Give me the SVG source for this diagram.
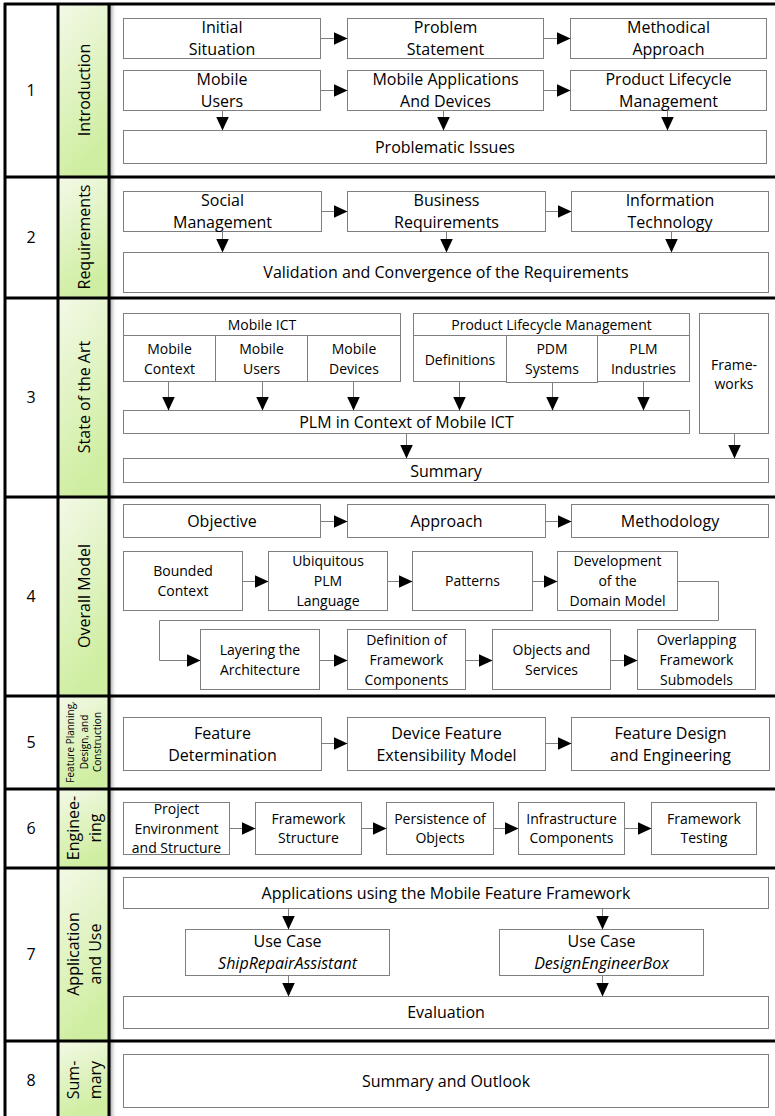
<svg xmlns="http://www.w3.org/2000/svg" width="775" height="1116" viewBox="0 0 775 1116">
  <style>
    .box { fill: #ffffff; stroke: #7f7f7f; stroke-width: 1; }
    .t { font-family: "Open Sans", "Liberation Sans", sans-serif; font-size: 16px; fill: #000; text-anchor: middle; }
    .s { font-size: 14px; }
    .xs { font-size: 10px; }
    .it { font-style: italic; }
    .c { fill: none; stroke: #7f7f7f; stroke-width: 1; marker-end: url(#ah); }
    .frame { stroke: #000; stroke-width: 3; fill: none; }
    .cell { fill: url(#green); }
  </style>
  <defs>
    <marker id="ah" markerUnits="userSpaceOnUse" markerWidth="14" markerHeight="14" refX="14" refY="7" orient="auto" viewBox="0 0 14 14">
      <path d="M0,0.5 L14,7 L0,13.5 z" fill="#000"/>
    </marker>
    <linearGradient id="green" x1="0" y1="0" x2="0.3" y2="1">
      <stop offset="0" stop-color="#f3f9e7"/>
      <stop offset="1" stop-color="#cfeea1"/>
    </linearGradient>
    <linearGradient id="shade" x1="0" y1="0" x2="1" y2="0">
      <stop offset="0" stop-color="#808080" stop-opacity="0.75"/>
      <stop offset="1" stop-color="#ffffff" stop-opacity="0"/>
    </linearGradient>
  </defs>

  <rect x="0" y="0" width="775" height="1116" fill="#ffffff"/>

  <!-- chapter title column -->
  <g id="title-cells">
    <rect class="cell" x="58" y="4" width="51" height="173"/>
    <rect class="cell" x="58" y="177" width="51" height="121"/>
    <rect class="cell" x="58" y="298" width="51" height="199"/>
    <rect class="cell" x="58" y="497" width="51" height="199"/>
    <rect class="cell" x="58" y="696" width="51" height="93"/>
    <rect class="cell" x="58" y="789" width="51" height="79"/>
    <rect class="cell" x="58" y="868" width="51" height="173"/>
    <rect class="cell" x="58" y="1041" width="51" height="75"/>
    <rect x="110" y="4" width="7" height="1112" fill="url(#shade)"/>
  </g>

  <!-- table grid -->
  <g id="grid" class="frame">
    <path d="M4,4 H775 M4,177 H775 M4,298 H775 M4,497 H775 M4,696 H775 M4,789 H775 M4,868 H775 M4,1041 H775"/>
    <path d="M5,3 V1116 M58,3 V1116 M109,3 V1116"/>
  </g>

  <!-- chapter numbers -->
  <g id="numbers" class="t">
    <text x="31" y="96">1</text>
    <text x="31" y="243">2</text>
    <text x="31" y="403">3</text>
    <text x="31" y="602">4</text>
    <text x="31" y="748">5</text>
    <text x="31" y="834">6</text>
    <text x="31" y="960">7</text>
    <text x="31" y="1086">8</text>
  </g>

  <!-- chapter titles (rotated) -->
  <g id="titles" class="t">
    <text transform="translate(84,90) rotate(-90)" y="5.7">Introduction</text>
    <text transform="translate(84,237) rotate(-90)" y="5.7">Requirements</text>
    <text transform="translate(84,397) rotate(-90)" y="5.7">State of the Art</text>
    <text transform="translate(84,596) rotate(-90)" y="5.7">Overall Model</text>
    <g transform="translate(84,742) rotate(-90)" class="xs">
      <text y="-10">Feature Planning,</text>
      <text y="3.5">Design, and</text>
      <text y="17">Construction</text>
    </g>
    <g transform="translate(84,828) rotate(-90)">
      <text y="-5">Enginee-</text>
      <text y="17">ring</text>
    </g>
    <g transform="translate(84,954) rotate(-90)">
      <text y="-5">Application</text>
      <text y="17">and Use</text>
    </g>
    <g transform="translate(84,1080) rotate(-90)">
      <text y="-5">Sum-</text>
      <text y="17">mary</text>
    </g>
  </g>

  <g transform="translate(0.5,0.5)">
    <!-- 1 Introduction -->
    <g id="n-initial-situation"><rect class="box" x="123" y="18" width="197" height="40"/><text class="t" x="221.5" y="32.5">Initial</text><text class="t" x="221.5" y="54.5">Situation</text></g>
    <g id="n-problem-statement"><rect class="box" x="347" y="18" width="196" height="40"/><text class="t" x="445" y="32.5">Problem</text><text class="t" x="445" y="54.5">Statement</text></g>
    <g id="n-methodical-approach"><rect class="box" x="570" y="18" width="196" height="40"/><text class="t" x="668" y="32.5">Methodical</text><text class="t" x="668" y="54.5">Approach</text></g>
    <g id="n-mobile-users"><rect class="box" x="123" y="70" width="197" height="40"/><text class="t" x="221.5" y="84.5">Mobile</text><text class="t" x="221.5" y="106.5">Users</text></g>
    <g id="n-mobile-apps"><rect class="box" x="347" y="70" width="196" height="40"/><text class="t" x="445" y="84.5">Mobile Applications</text><text class="t" x="445" y="106.5">And Devices</text></g>
    <g id="n-plm"><rect class="box" x="570" y="70" width="196" height="40"/><text class="t" x="668" y="84.5">Product Lifecycle</text><text class="t" x="668" y="106.5">Management</text></g>
    <g id="n-problematic-issues"><rect class="box" x="123" y="130" width="643" height="33"/><text class="t" x="444.5" y="152">Problematic Issues</text></g>

    <!-- 2 Requirements -->
    <g id="n-social"><rect class="box" x="123" y="191" width="198" height="40"/><text class="t" x="222" y="205.5">Social</text><text class="t" x="222" y="227.5">Management</text></g>
    <g id="n-business"><rect class="box" x="347" y="191" width="198" height="40"/><text class="t" x="446" y="205.5">Business</text><text class="t" x="446" y="227.5">Requirements</text></g>
    <g id="n-it"><rect class="box" x="571" y="191" width="197" height="40"/><text class="t" x="669.5" y="205.5">Information</text><text class="t" x="669.5" y="227.5">Technology</text></g>
    <g id="n-validation"><rect class="box" x="123" y="252" width="645" height="40"/><text class="t" x="445.5" y="277.5">Validation and Convergence of the Requirements</text></g>

    <!-- 3 State of the Art -->
    <g id="n-mobile-ict">
      <rect class="box" x="123" y="313" width="277" height="22"/><text class="t s" x="261.5" y="329">Mobile ICT</text>
      <rect class="box" x="123" y="335" width="92" height="46"/><text class="t s" x="169" y="353">Mobile</text><text class="t s" x="169" y="373">Context</text>
      <rect class="box" x="215" y="335" width="92" height="46"/><text class="t s" x="261" y="353">Mobile</text><text class="t s" x="261" y="373">Users</text>
      <rect class="box" x="307" y="335" width="93" height="46"/><text class="t s" x="353.5" y="353">Mobile</text><text class="t s" x="353.5" y="373">Devices</text>
    </g>
    <g id="n-plm-sota">
      <rect class="box" x="413" y="313" width="276" height="22"/><text class="t s" x="551" y="329">Product Lifecycle Management</text>
      <rect class="box" x="413" y="335" width="93" height="46"/><text class="t s" x="459.5" y="364">Definitions</text>
      <rect class="box" x="506" y="335" width="91" height="47"/><text class="t s" x="551.5" y="353">PDM</text><text class="t s" x="551.5" y="373">Systems</text>
      <rect class="box" x="597" y="335" width="92" height="46"/><text class="t s" x="643" y="353">PLM</text><text class="t s" x="643" y="373">Industries</text>
    </g>
    <g id="n-frameworks"><rect class="box" x="699" y="313" width="69" height="120"/><text class="t s" x="733.5" y="369.5">Frame-</text><text class="t s" x="733.5" y="388.5">works</text></g>
    <g id="n-plm-context"><rect class="box" x="123" y="410" width="566" height="23"/><text class="t" x="406" y="427.5">PLM in Context of Mobile ICT</text></g>
    <g id="n-summary-sota"><rect class="box" x="123" y="458" width="645" height="24"/><text class="t" x="445.5" y="476">Summary</text></g>

    <!-- 4 Overall Model -->
    <g id="n-objective"><rect class="box" x="123" y="504" width="197" height="33"/><text class="t" x="221.5" y="526.5">Objective</text></g>
    <g id="n-approach"><rect class="box" x="347" y="504" width="198" height="33"/><text class="t" x="446" y="526.5">Approach</text></g>
    <g id="n-methodology"><rect class="box" x="571" y="504" width="197" height="33"/><text class="t" x="669.5" y="526.5">Methodology</text></g>
    <g id="n-bounded"><rect class="box" x="123" y="551" width="119" height="59"/><text class="t s" x="182.5" y="575.5">Bounded</text><text class="t s" x="182.5" y="595.5">Context</text></g>
    <g id="n-ubiquitous"><rect class="box" x="268" y="551" width="119" height="59"/><text class="t s" x="327.5" y="565.5">Ubiquitous</text><text class="t s" x="327.5" y="585.5">PLM</text><text class="t s" x="327.5" y="605.5">Language</text></g>
    <g id="n-patterns"><rect class="box" x="412" y="551" width="120" height="59"/><text class="t s" x="472" y="585.5">Patterns</text></g>
    <g id="n-domain-model"><rect class="box" x="557" y="551" width="120" height="59"/><text class="t s" x="617" y="565.5">Development</text><text class="t s" x="617" y="585.5">of the</text><text class="t s" x="617" y="605.5">Domain Model</text></g>
    <g id="n-layering"><rect class="box" x="200" y="629" width="119" height="60"/><text class="t s" x="259.5" y="654">Layering the</text><text class="t s" x="259.5" y="674">Architecture</text></g>
    <g id="n-components"><rect class="box" x="347" y="629" width="118" height="60"/><text class="t s" x="406" y="644">Definition of</text><text class="t s" x="406" y="664">Framework</text><text class="t s" x="406" y="684">Components</text></g>
    <g id="n-objects"><rect class="box" x="492" y="629" width="118" height="60"/><text class="t s" x="551" y="654">Objects and</text><text class="t s" x="551" y="674">Services</text></g>
    <g id="n-submodels"><rect class="box" x="637" y="629" width="118" height="60"/><text class="t s" x="696" y="644">Overlapping</text><text class="t s" x="696" y="664">Framework</text><text class="t s" x="696" y="684">Submodels</text></g>

    <!-- 5 Feature Planning, Design, and Construction -->
    <g id="n-feature-determination"><rect class="box" x="123" y="717" width="198" height="53"/><text class="t" x="222" y="738">Feature</text><text class="t" x="222" y="760">Determination</text></g>
    <g id="n-extensibility"><rect class="box" x="347" y="717" width="198" height="53"/><text class="t" x="446" y="738">Device Feature</text><text class="t" x="446" y="760">Extensibility Model</text></g>
    <g id="n-feature-design"><rect class="box" x="571" y="717" width="198" height="53"/><text class="t" x="670" y="738">Feature Design</text><text class="t" x="670" y="760">and Engineering</text></g>

    <!-- 6 Engineering -->
    <g id="n-project"><rect class="box" x="123" y="802" width="106" height="52"/><text class="t s" x="176" y="813.5">Project</text><text class="t s" x="176" y="833">Environment</text><text class="t s" x="176" y="852.5">and Structure</text></g>
    <g id="n-structure"><rect class="box" x="255" y="802" width="106" height="52"/><text class="t s" x="308" y="823">Framework</text><text class="t s" x="308" y="842.5">Structure</text></g>
    <g id="n-persistence"><rect class="box" x="386" y="802" width="107" height="52"/><text class="t s" x="439.5" y="823">Persistence of</text><text class="t s" x="439.5" y="842.5">Objects</text></g>
    <g id="n-infrastructure"><rect class="box" x="518" y="802" width="106" height="52"/><text class="t s" x="571" y="823">Infrastructure</text><text class="t s" x="571" y="842.5">Components</text></g>
    <g id="n-testing"><rect class="box" x="651" y="802" width="105" height="52"/><text class="t s" x="703.5" y="823">Framework</text><text class="t s" x="703.5" y="842.5">Testing</text></g>

    <!-- 7 Application and Use -->
    <g id="n-applications"><rect class="box" x="123" y="877" width="645" height="31"/><text class="t" x="445.5" y="898">Applications using the Mobile Feature Framework</text></g>
    <g id="n-ship-repair"><rect class="box" x="185" y="929" width="204" height="46"/><text class="t" x="287" y="946.5">Use Case</text><text class="t it" x="287" y="968.5">ShipRepairAssistant</text></g>
    <g id="n-design-engineer"><rect class="box" x="499" y="929" width="204" height="46"/><text class="t" x="601" y="946.5">Use Case</text><text class="t it" x="601" y="968.5">DesignEngineerBox</text></g>
    <g id="n-evaluation"><rect class="box" x="123" y="996" width="645" height="32"/><text class="t" x="445.5" y="1017.5">Evaluation</text></g>

    <!-- 8 Summary -->
    <g id="n-outlook"><rect class="box" x="123" y="1054" width="645" height="53"/><text class="t" x="445.5" y="1086">Summary and Outlook</text></g>

    <!-- connectors -->
    <g id="connectors">
      <path class="c" d="M320,38 H347"/>
      <path class="c" d="M543,38 H570"/>
      <path class="c" d="M320,90 H347"/>
      <path class="c" d="M543,90 H570"/>
      <path class="c" d="M222,110 V130"/>
      <path class="c" d="M443,110 V130"/>
      <path class="c" d="M667,110 V130"/>

      <path class="c" d="M321,211 H347"/>
      <path class="c" d="M545,211 H571"/>
      <path class="c" d="M222,231 V252"/>
      <path class="c" d="M446,231 V252"/>
      <path class="c" d="M671,231 V252"/>

      <path class="c" d="M168,381 V410"/>
      <path class="c" d="M262,381 V410"/>
      <path class="c" d="M353,381 V410"/>
      <path class="c" d="M459,381 V410"/>
      <path class="c" d="M552,382 V410"/>
      <path class="c" d="M643,381 V410"/>
      <path class="c" d="M406,433 V458"/>
      <path class="c" d="M734,433 V458"/>

      <path class="c" d="M320,521 H347"/>
      <path class="c" d="M545,521 H571"/>
      <path class="c" d="M242,581 H268"/>
      <path class="c" d="M387,581 H412"/>
      <path class="c" d="M532,581 H557"/>
      <path class="c" d="M677,581 H718 V620 H159 V660 H200"/>
      <path class="c" d="M319,660 H347"/>
      <path class="c" d="M465,660 H492"/>
      <path class="c" d="M610,660 H637"/>

      <path class="c" d="M321,743 H347"/>
      <path class="c" d="M545,743 H571"/>

      <path class="c" d="M229,828 H255"/>
      <path class="c" d="M361,828 H386"/>
      <path class="c" d="M493,828 H518"/>
      <path class="c" d="M624,828 H651"/>

      <path class="c" d="M288,908 V929"/>
      <path class="c" d="M602,908 V929"/>
      <path class="c" d="M288,975 V996"/>
      <path class="c" d="M602,975 V996"/>
    </g>
  </g>
</svg>
